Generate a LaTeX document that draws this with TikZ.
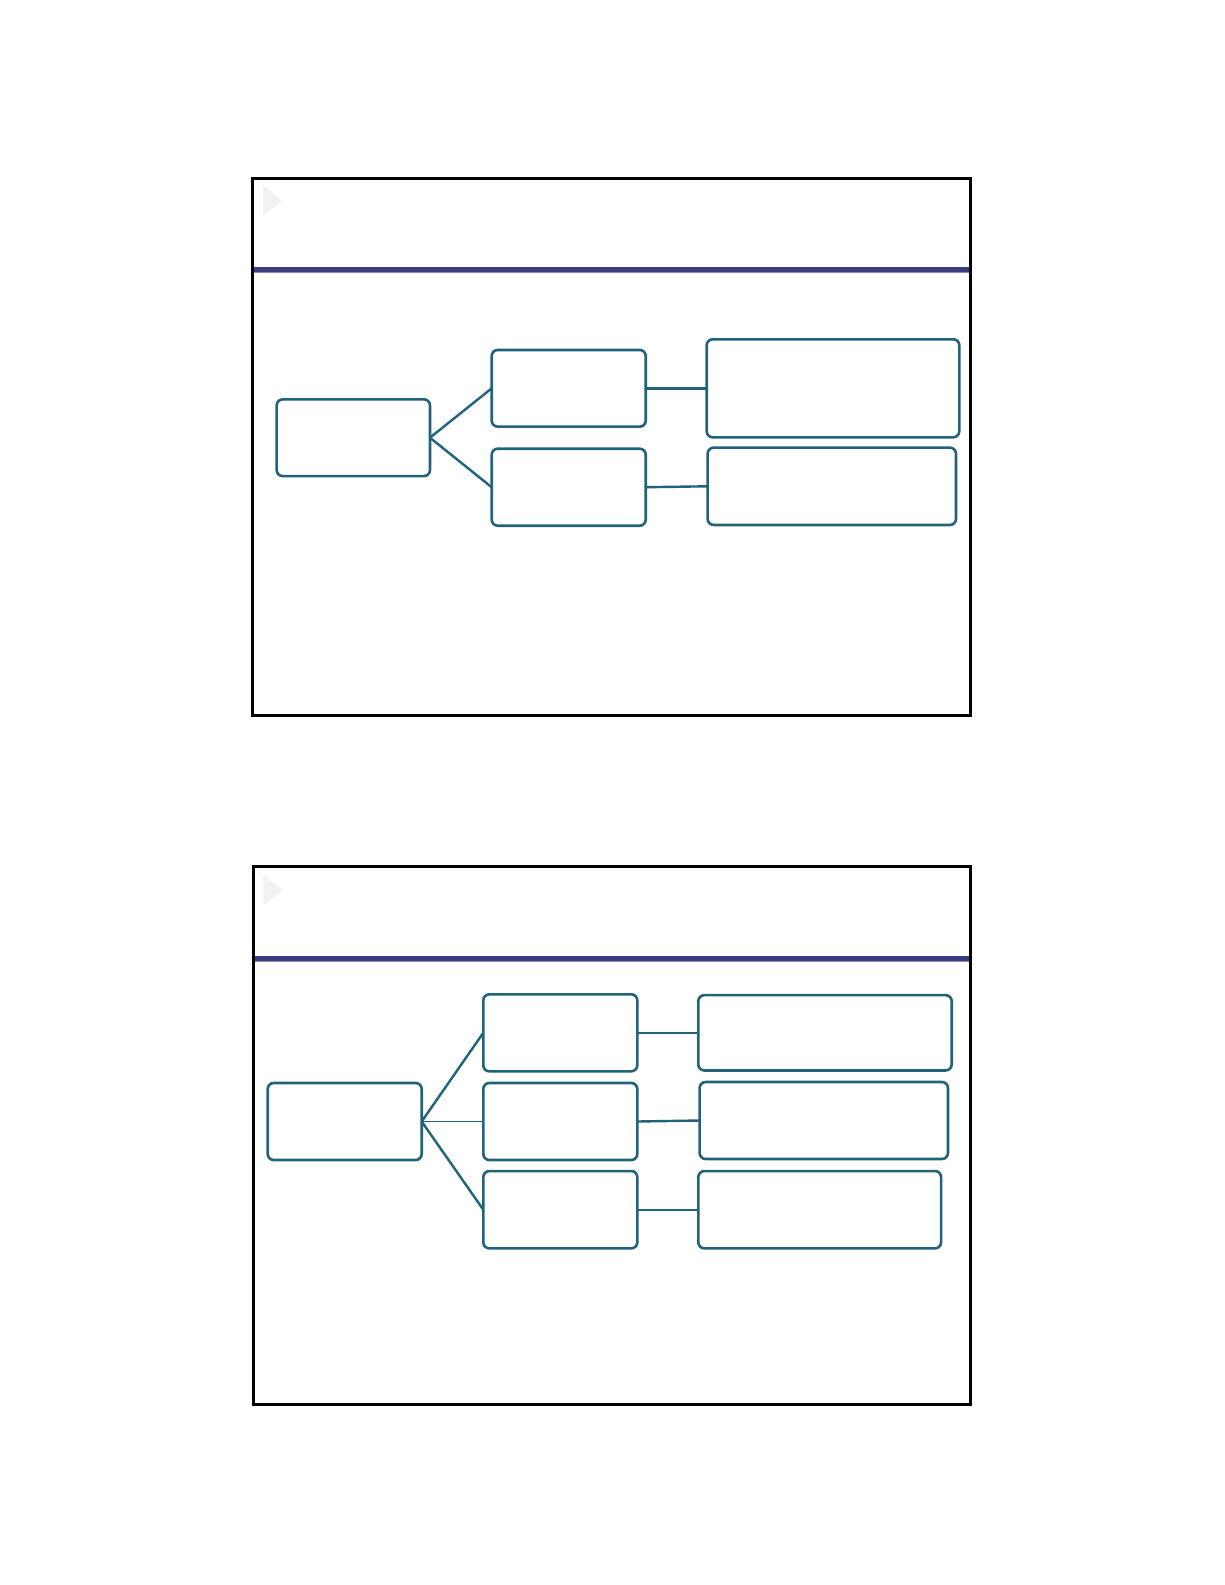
\documentclass[tikz,border=0pt]{standalone}
\begin{document}
\begin{tikzpicture}[x=1pt,y=-1pt]
\definecolor{teal1}{RGB}{33,99,122}
\definecolor{purp}{RGB}{60,60,130}
\definecolor{purplight}{RGB}{140,140,185}
\definecolor{trig}{RGB}{242,242,242}
\tikzset{
  box/.style={draw=teal1, line width=2.6pt, rounded corners=6pt, inner sep=0pt, outer sep=0pt, fill=white},
  conn/.style={draw=teal1, line width=2.4pt},
  thinconn/.style={draw=teal1, line width=1.2pt},
  frame/.style={draw=black, line width=3pt},
  rule/.style={draw=purp, line width=4.5pt},
  rulebg/.style={draw=purplight, line width=6pt},
  tri/.style={fill=trig, draw=none}
}
\fill[white] (0,0) rectangle (1225,1585);
\useasboundingbox (0,0) rectangle (1225,1585);

% ---------- Slide 1 ----------
\fill[tri] (263,185) -- (282,200.5) -- (263,216) -- cycle;
\draw[rulebg] (252.5,269.5) -- (970.5,269.5);
\draw[rule] (252.5,269.5) -- (970.5,269.5);
\draw[frame] (252.5,178) rectangle (970.5,715.5);

\node[box, minimum width=153.3pt, minimum height=76.7pt] (root1) at (353.3,437.7) {};
\node[box, minimum width=154pt, minimum height=76.7pt] (m1a) at (568.7,388.3) {};
\node[box, minimum width=154pt, minimum height=77pt] (m1b) at (568.7,487.2) {};
\node[box, minimum width=252.6pt, minimum height=98pt] (r1a) at (833,388.3) {};
\node[box, minimum width=248.3pt, minimum height=77.3pt] (r1b) at (831.8,486.3) {};

\draw[conn] (root1.east) -- (m1a.west);
\draw[conn] (root1.east) -- (m1b.west);
\draw[conn] (m1a.east) -- (r1a.west);
\draw[conn] (m1b.east) -- (r1b.west);

% ---------- Slide 2 ----------
\fill[tri] (263.3,875) -- (282.7,890) -- (263.3,905) -- cycle;
\draw[rulebg] (253,958.5) -- (970.5,958.5);
\draw[rule] (253,958.5) -- (970.5,958.5);
\draw[frame] (253,866.5) rectangle (970.5,1404.5);

\node[box, minimum width=154pt, minimum height=77pt] (root2) at (344.7,1121.5) {};
\node[box, minimum width=154pt, minimum height=77pt] (m2a) at (560.3,1032.8) {};
\node[box, minimum width=154pt, minimum height=77pt] (m2b) at (560.3,1121.5) {};
\node[box, minimum width=154pt, minimum height=77.3pt] (m2c) at (560.3,1209.7) {};
\node[box, minimum width=253.4pt, minimum height=75.3pt] (r2a) at (825,1032.8) {};
\node[box, minimum width=248.3pt, minimum height=77pt] (r2b) at (823.8,1120.5) {};
\node[box, minimum width=242.7pt, minimum height=77.3pt] (r2c) at (819.7,1209.7) {};

\draw[conn] (root2.east) -- (m2a.west);
\draw[thinconn] (root2.east) -- (m2b.west);
\draw[conn] (root2.east) -- (m2c.west);
\draw[conn] (m2a.east) -- (r2a.west);
\draw[conn] (m2b.east) -- (r2b.west);
\draw[conn] (m2c.east) -- (r2c.west);
\end{tikzpicture}
\end{document}
